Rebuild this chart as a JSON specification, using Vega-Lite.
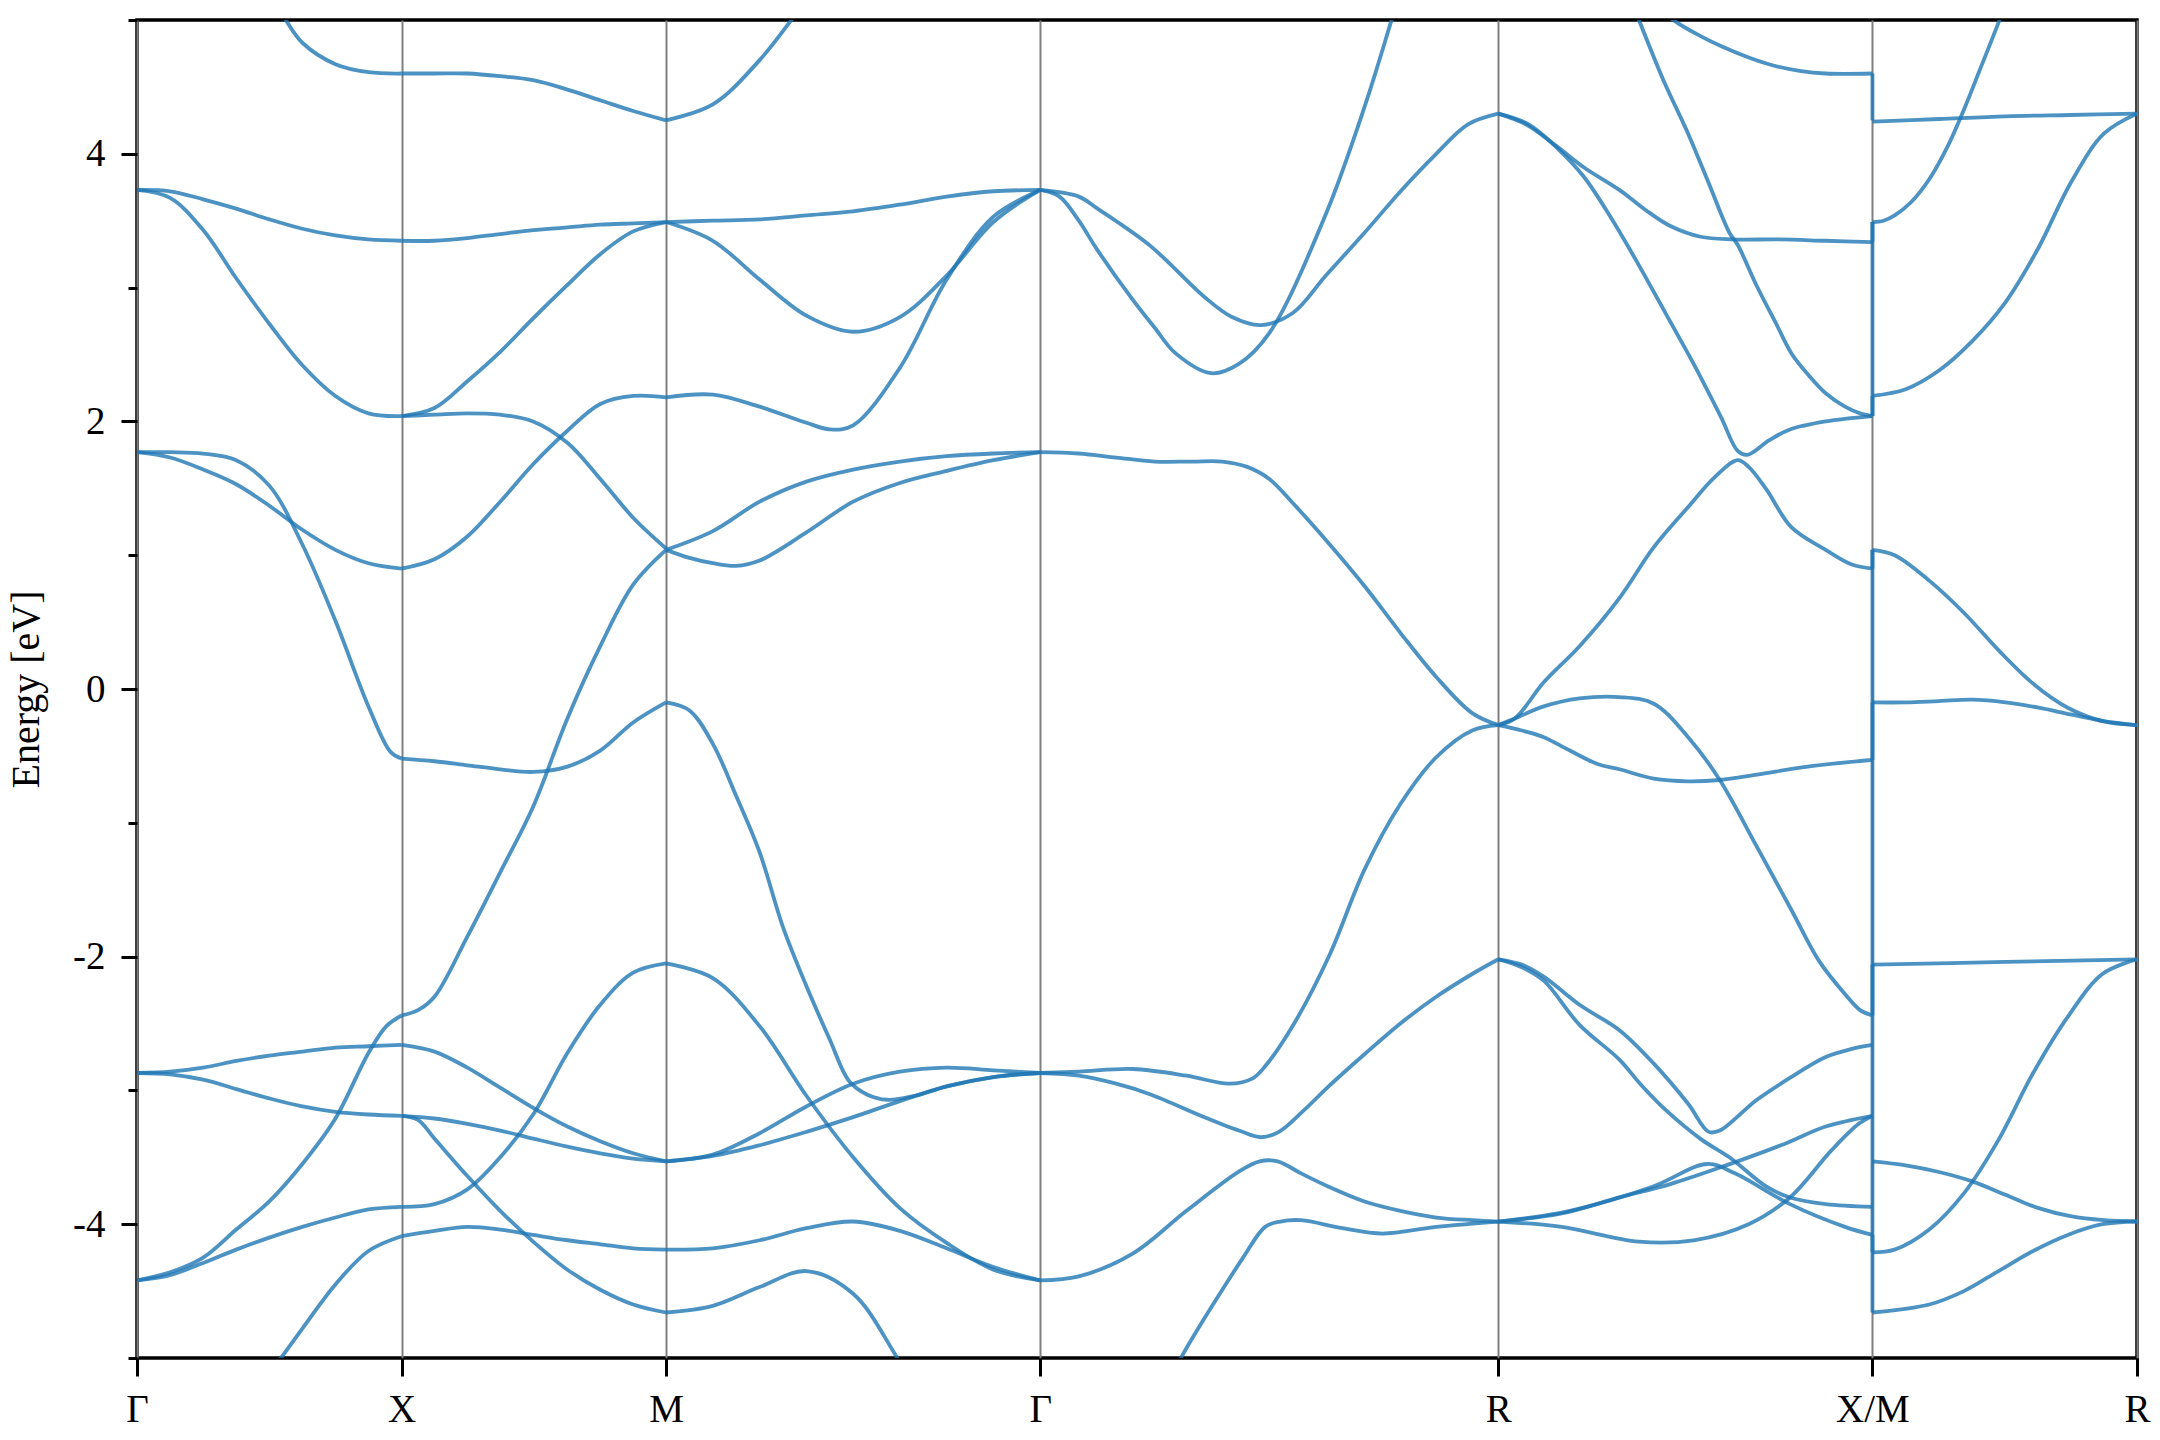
{
  "$schema": "https://vega.github.io/schema/vega-lite/v6.json",
  "width": 2000,
  "height": 1338,
  "autosize": {"type": "none"},
  "padding": {"left": 137, "top": 20, "right": 23, "bottom": 82},
  "background": "white",
  "config": {"font": "Liberation Serif", "view": {"stroke": "black", "strokeWidth": 3.5}},
  "datasets": {
    "bands": [
      {"c":"GX_A","k":0.1875,"e":5.65},{"c":"GX_A","k":0.25,"e":5.22},{"c":"GX_A","k":0.28125,"e":5.0},{"c":"GX_A","k":0.3125,"e":4.83},{"c":"GX_A","k":0.375,"e":4.67},{"c":"GX_A","k":0.4375,"e":4.61},{"c":"GX_A","k":0.5,"e":4.60},
      {"c":"GX_B","k":0,"e":3.73},{"c":"GX_B","k":0.0625,"e":3.72},{"c":"GX_B","k":0.125,"e":3.66},{"c":"GX_B","k":0.1875,"e":3.59},{"c":"GX_B","k":0.25,"e":3.51},{"c":"GX_B","k":0.3125,"e":3.44},{"c":"GX_B","k":0.375,"e":3.39},{"c":"GX_B","k":0.4375,"e":3.36},{"c":"GX_B","k":0.5,"e":3.35},
      {"c":"GX_C","k":0,"e":3.73},{"c":"GX_C","k":0.0625,"e":3.67},{"c":"GX_C","k":0.125,"e":3.43},{"c":"GX_C","k":0.1875,"e":3.07},{"c":"GX_C","k":0.25,"e":2.73},{"c":"GX_C","k":0.3125,"e":2.42},{"c":"GX_C","k":0.375,"e":2.19},{"c":"GX_C","k":0.4375,"e":2.06},{"c":"GX_C","k":0.5,"e":2.04},
      {"c":"GX_D","k":0,"e":1.77},{"c":"GX_D","k":0.0625,"e":1.77},{"c":"GX_D","k":0.125,"e":1.76},{"c":"GX_D","k":0.1875,"e":1.71},{"c":"GX_D","k":0.25,"e":1.52},{"c":"GX_D","k":0.3125,"e":1.08},{"c":"GX_D","k":0.375,"e":0.51},{"c":"GX_D","k":0.4375,"e":-0.13},{"c":"GX_D","k":0.4792,"e":-0.47},{"c":"GX_D","k":0.5,"e":-0.52},
      {"c":"GX_E","k":0,"e":1.77},{"c":"GX_E","k":0.0625,"e":1.73},{"c":"GX_E","k":0.125,"e":1.64},{"c":"GX_E","k":0.1875,"e":1.53},{"c":"GX_E","k":0.25,"e":1.37},{"c":"GX_E","k":0.3125,"e":1.19},{"c":"GX_E","k":0.375,"e":1.04},{"c":"GX_E","k":0.4375,"e":0.94},{"c":"GX_E","k":0.5,"e":0.90},
      {"c":"GX_F","k":0,"e":-2.87},{"c":"GX_F","k":0.0625,"e":-2.86},{"c":"GX_F","k":0.125,"e":-2.83},{"c":"GX_F","k":0.1875,"e":-2.78},{"c":"GX_F","k":0.25,"e":-2.74},{"c":"GX_F","k":0.3125,"e":-2.71},{"c":"GX_F","k":0.375,"e":-2.68},{"c":"GX_F","k":0.4375,"e":-2.67},{"c":"GX_F","k":0.5,"e":-2.66},
      {"c":"GX_G","k":0,"e":-2.87},{"c":"GX_G","k":0.0625,"e":-2.88},{"c":"GX_G","k":0.125,"e":-2.92},{"c":"GX_G","k":0.1875,"e":-2.99},{"c":"GX_G","k":0.25,"e":-3.06},{"c":"GX_G","k":0.3125,"e":-3.12},{"c":"GX_G","k":0.375,"e":-3.16},{"c":"GX_G","k":0.4375,"e":-3.18},{"c":"GX_G","k":0.5,"e":-3.19},
      {"c":"GX_H","k":0,"e":-4.42},{"c":"GX_H","k":0.0625,"e":-4.36},{"c":"GX_H","k":0.125,"e":-4.25},{"c":"GX_H","k":0.1875,"e":-4.04},{"c":"GX_H","k":0.25,"e":-3.83},{"c":"GX_H","k":0.3125,"e":-3.55},{"c":"GX_H","k":0.375,"e":-3.21},{"c":"GX_H","k":0.4375,"e":-2.72},{"c":"GX_H","k":0.4714,"e":-2.52},{"c":"GX_H","k":0.5,"e":-2.44},
      {"c":"GX_I","k":0,"e":-4.42},{"c":"GX_I","k":0.0625,"e":-4.38},{"c":"GX_I","k":0.125,"e":-4.29},{"c":"GX_I","k":0.1875,"e":-4.19},{"c":"GX_I","k":0.25,"e":-4.10},{"c":"GX_I","k":0.3125,"e":-4.02},{"c":"GX_I","k":0.375,"e":-3.95},{"c":"GX_I","k":0.4375,"e":-3.89},{"c":"GX_I","k":0.5,"e":-3.87},
      {"c":"GX_J","k":0.1875,"e":-5.45},{"c":"GX_J","k":0.25,"e":-5.12},{"c":"GX_J","k":0.3125,"e":-4.78},{"c":"GX_J","k":0.375,"e":-4.45},{"c":"GX_J","k":0.4375,"e":-4.20},{"c":"GX_J","k":0.5,"e":-4.09},

      {"c":"XM_A","k":0.5,"e":4.60},{"c":"XM_A","k":0.5622,"e":4.60},{"c":"XM_A","k":0.6244,"e":4.60},{"c":"XM_A","k":0.6865,"e":4.58},{"c":"XM_A","k":0.7487,"e":4.55},{"c":"XM_A","k":0.8135,"e":4.48},{"c":"XM_A","k":0.8756,"e":4.40},{"c":"XM_A","k":0.9378,"e":4.32},{"c":"XM_A","k":1.0,"e":4.25},
      {"c":"XM_B","k":0.5,"e":3.35},{"c":"XM_B","k":0.5622,"e":3.35},{"c":"XM_B","k":0.6244,"e":3.37},{"c":"XM_B","k":0.6865,"e":3.40},{"c":"XM_B","k":0.7487,"e":3.43},{"c":"XM_B","k":0.8135,"e":3.45},{"c":"XM_B","k":0.8756,"e":3.47},{"c":"XM_B","k":0.9378,"e":3.48},{"c":"XM_B","k":1.0,"e":3.49},
      {"c":"XM_C","k":0.5,"e":2.04},{"c":"XM_C","k":0.5622,"e":2.10},{"c":"XM_C","k":0.6244,"e":2.30},{"c":"XM_C","k":0.6865,"e":2.52},{"c":"XM_C","k":0.7487,"e":2.77},{"c":"XM_C","k":0.8135,"e":3.02},{"c":"XM_C","k":0.8756,"e":3.25},{"c":"XM_C","k":0.9378,"e":3.42},{"c":"XM_C","k":1.0,"e":3.49},
      {"c":"XM_D","k":0.5,"e":2.04},{"c":"XM_D","k":0.5622,"e":2.05},{"c":"XM_D","k":0.6244,"e":2.06},{"c":"XM_D","k":0.6865,"e":2.05},{"c":"XM_D","k":0.7487,"e":2.00},{"c":"XM_D","k":0.8135,"e":1.84},{"c":"XM_D","k":0.8756,"e":1.57},{"c":"XM_D","k":0.9378,"e":1.28},{"c":"XM_D","k":1.0,"e":1.05},
      {"c":"XM_E","k":0.5,"e":0.90},{"c":"XM_E","k":0.5622,"e":0.97},{"c":"XM_E","k":0.6244,"e":1.14},{"c":"XM_E","k":0.6865,"e":1.40},{"c":"XM_E","k":0.7487,"e":1.68},{"c":"XM_E","k":0.8135,"e":1.93},{"c":"XM_E","k":0.8756,"e":2.13},{"c":"XM_E","k":0.9378,"e":2.19},{"c":"XM_E","k":1.0,"e":2.18},
      {"c":"XM_Fp","k":0.5,"e":-0.52},{"c":"XM_Fp","k":0.5622,"e":-0.54},{"c":"XM_Fp","k":0.6244,"e":-0.57},{"c":"XM_Fp","k":0.6865,"e":-0.60},{"c":"XM_Fp","k":0.7487,"e":-0.62},{"c":"XM_Fp","k":0.8135,"e":-0.58},{"c":"XM_Fp","k":0.8756,"e":-0.46},{"c":"XM_Fp","k":0.9378,"e":-0.25},{"c":"XM_Fp","k":1.0,"e":-0.10},
      {"c":"XM_T","k":0.5,"e":-2.44},{"c":"XM_T","k":0.5311,"e":-2.40},{"c":"XM_T","k":0.5622,"e":-2.30},{"c":"XM_T","k":0.6244,"e":-1.85},{"c":"XM_T","k":0.6865,"e":-1.37},{"c":"XM_T","k":0.7487,"e":-0.88},{"c":"XM_T","k":0.8135,"e":-0.22},{"c":"XM_T","k":0.8756,"e":0.32},{"c":"XM_T","k":0.9378,"e":0.78},{"c":"XM_T","k":1.0,"e":1.04},
      {"c":"XM_F","k":0.5,"e":-2.66},{"c":"XM_F","k":0.5622,"e":-2.71},{"c":"XM_F","k":0.6244,"e":-2.83},{"c":"XM_F","k":0.6865,"e":-2.98},{"c":"XM_F","k":0.7487,"e":-3.13},{"c":"XM_F","k":0.8135,"e":-3.27},{"c":"XM_F","k":0.8756,"e":-3.38},{"c":"XM_F","k":0.9378,"e":-3.47},{"c":"XM_F","k":1.0,"e":-3.53},
      {"c":"XM_G1","k":0.5,"e":-3.19},{"c":"XM_G1","k":0.5622,"e":-3.21},{"c":"XM_G1","k":0.6244,"e":-3.25},{"c":"XM_G1","k":0.6865,"e":-3.30},{"c":"XM_G1","k":0.7487,"e":-3.36},{"c":"XM_G1","k":0.8135,"e":-3.42},{"c":"XM_G1","k":0.8756,"e":-3.47},{"c":"XM_G1","k":0.9378,"e":-3.51},{"c":"XM_G1","k":1.0,"e":-3.53},
      {"c":"XM_G2","k":0.5,"e":-3.19},{"c":"XM_G2","k":0.5311,"e":-3.22},{"c":"XM_G2","k":0.5622,"e":-3.36},{"c":"XM_G2","k":0.6244,"e":-3.64},{"c":"XM_G2","k":0.6865,"e":-3.90},{"c":"XM_G2","k":0.7487,"e":-4.13},{"c":"XM_G2","k":0.8135,"e":-4.34},{"c":"XM_G2","k":0.8756,"e":-4.49},{"c":"XM_G2","k":0.9378,"e":-4.60},{"c":"XM_G2","k":1.0,"e":-4.66},
      {"c":"XM_I","k":0.5,"e":-3.87},{"c":"XM_I","k":0.5622,"e":-3.85},{"c":"XM_I","k":0.6244,"e":-3.74},{"c":"XM_I","k":0.6865,"e":-3.50},{"c":"XM_I","k":0.7487,"e":-3.18},{"c":"XM_I","k":0.8135,"e":-2.72},{"c":"XM_I","k":0.8756,"e":-2.36},{"c":"XM_I","k":0.9378,"e":-2.12},{"c":"XM_I","k":1.0,"e":-2.05},
      {"c":"XM_J","k":0.5,"e":-4.09},{"c":"XM_J","k":0.5622,"e":-4.05},{"c":"XM_J","k":0.6244,"e":-4.02},{"c":"XM_J","k":0.6865,"e":-4.04},{"c":"XM_J","k":0.7487,"e":-4.08},{"c":"XM_J","k":0.8135,"e":-4.12},{"c":"XM_J","k":0.8756,"e":-4.15},{"c":"XM_J","k":0.9378,"e":-4.18},{"c":"XM_J","k":1.0,"e":-4.19},

      {"c":"MG_A","k":1.0,"e":4.25},{"c":"MG_A","k":1.0884,"e":4.37},{"c":"MG_A","k":1.1768,"e":4.70},{"c":"MG_A","k":1.2652,"e":5.15},{"c":"MG_A","k":1.3536,"e":5.6},
      {"c":"MG_B","k":1.0,"e":3.49},{"c":"MG_B","k":1.0884,"e":3.50},{"c":"MG_B","k":1.1768,"e":3.51},{"c":"MG_B","k":1.2652,"e":3.54},{"c":"MG_B","k":1.3536,"e":3.57},{"c":"MG_B","k":1.4419,"e":3.62},{"c":"MG_B","k":1.5303,"e":3.68},{"c":"MG_B","k":1.6187,"e":3.72},{"c":"MG_B","k":1.7071,"e":3.73},
      {"c":"MG_C","k":1.0,"e":3.49},{"c":"MG_C","k":1.0884,"e":3.35},{"c":"MG_C","k":1.1768,"e":3.06},{"c":"MG_C","k":1.2652,"e":2.79},{"c":"MG_C","k":1.3536,"e":2.67},{"c":"MG_C","k":1.4419,"e":2.78},{"c":"MG_C","k":1.5303,"e":3.09},{"c":"MG_C","k":1.6187,"e":3.49},{"c":"MG_C","k":1.7071,"e":3.73},
      {"c":"MG_E","k":1.0,"e":2.18},{"c":"MG_E","k":1.0884,"e":2.20},{"c":"MG_E","k":1.1768,"e":2.11},{"c":"MG_E","k":1.2652,"e":1.99},{"c":"MG_E","k":1.3094,"e":1.94},{"c":"MG_E","k":1.3536,"e":1.97},{"c":"MG_E","k":1.4419,"e":2.40},{"c":"MG_E","k":1.5303,"e":3.06},{"c":"MG_E","k":1.6187,"e":3.53},{"c":"MG_E","k":1.7071,"e":3.73},
      {"c":"MG_T1","k":1.0,"e":1.04},{"c":"MG_T1","k":1.0884,"e":1.18},{"c":"MG_T1","k":1.1768,"e":1.40},{"c":"MG_T1","k":1.2652,"e":1.55},{"c":"MG_T1","k":1.3536,"e":1.64},{"c":"MG_T1","k":1.4419,"e":1.70},{"c":"MG_T1","k":1.5303,"e":1.74},{"c":"MG_T1","k":1.6187,"e":1.76},{"c":"MG_T1","k":1.7071,"e":1.77},
      {"c":"MG_T2","k":1.0,"e":1.04},{"c":"MG_T2","k":1.0442,"e":0.98},{"c":"MG_T2","k":1.0884,"e":0.94},{"c":"MG_T2","k":1.1326,"e":0.92},{"c":"MG_T2","k":1.1768,"e":0.96},{"c":"MG_T2","k":1.2652,"e":1.17},{"c":"MG_T2","k":1.3536,"e":1.40},{"c":"MG_T2","k":1.4419,"e":1.54},{"c":"MG_T2","k":1.5303,"e":1.63},{"c":"MG_T2","k":1.6187,"e":1.71},{"c":"MG_T2","k":1.7071,"e":1.77},
      {"c":"MG_Fp","k":1.0,"e":-0.10},{"c":"MG_Fp","k":1.0442,"e":-0.16},{"c":"MG_Fp","k":1.0884,"e":-0.41},{"c":"MG_Fp","k":1.1326,"e":-0.80},{"c":"MG_Fp","k":1.1768,"e":-1.22},{"c":"MG_Fp","k":1.2210,"e":-1.78},{"c":"MG_Fp","k":1.2652,"e":-2.22},{"c":"MG_Fp","k":1.3094,"e":-2.62},{"c":"MG_Fp","k":1.3458,"e":-2.93},{"c":"MG_Fp","k":1.3795,"e":-3.03},{"c":"MG_Fp","k":1.4185,"e":-3.07},{"c":"MG_Fp","k":1.4705,"e":-3.04},{"c":"MG_Fp","k":1.5303,"e":-2.97},{"c":"MG_Fp","k":1.6187,"e":-2.90},{"c":"MG_Fp","k":1.7071,"e":-2.87},
      {"c":"MG_P","k":1.0,"e":-2.05},{"c":"MG_P","k":1.0884,"e":-2.16},{"c":"MG_P","k":1.1768,"e":-2.52},{"c":"MG_P","k":1.2652,"e":-3.04},{"c":"MG_P","k":1.3536,"e":-3.50},{"c":"MG_P","k":1.4419,"e":-3.88},{"c":"MG_P","k":1.5303,"e":-4.14},{"c":"MG_P","k":1.6187,"e":-4.34},{"c":"MG_P","k":1.7071,"e":-4.42},
      {"c":"MG_Q1","k":1.0,"e":-3.53},{"c":"MG_Q1","k":1.0884,"e":-3.49},{"c":"MG_Q1","k":1.1768,"e":-3.41},{"c":"MG_Q1","k":1.2652,"e":-3.31},{"c":"MG_Q1","k":1.3536,"e":-3.20},{"c":"MG_Q1","k":1.4419,"e":-3.08},{"c":"MG_Q1","k":1.5303,"e":-2.97},{"c":"MG_Q1","k":1.6187,"e":-2.90},{"c":"MG_Q1","k":1.7071,"e":-2.87},
      {"c":"MG_Q2","k":1.0,"e":-3.53},{"c":"MG_Q2","k":1.0884,"e":-3.48},{"c":"MG_Q2","k":1.1768,"e":-3.32},{"c":"MG_Q2","k":1.2652,"e":-3.12},{"c":"MG_Q2","k":1.3536,"e":-2.95},{"c":"MG_Q2","k":1.4419,"e":-2.86},{"c":"MG_Q2","k":1.5303,"e":-2.83},{"c":"MG_Q2","k":1.6187,"e":-2.85},{"c":"MG_Q2","k":1.7071,"e":-2.87},
      {"c":"MG_J","k":1.0,"e":-4.19},{"c":"MG_J","k":1.0884,"e":-4.18},{"c":"MG_J","k":1.1768,"e":-4.12},{"c":"MG_J","k":1.2652,"e":-4.03},{"c":"MG_J","k":1.3536,"e":-3.98},{"c":"MG_J","k":1.4419,"e":-4.05},{"c":"MG_J","k":1.5303,"e":-4.18},{"c":"MG_J","k":1.6187,"e":-4.32},{"c":"MG_J","k":1.7071,"e":-4.42},
      {"c":"MG_S","k":1.0,"e":-4.66},{"c":"MG_S","k":1.0884,"e":-4.61},{"c":"MG_S","k":1.1768,"e":-4.47},{"c":"MG_S","k":1.2652,"e":-4.35},{"c":"MG_S","k":1.3536,"e":-4.52},{"c":"MG_S","k":1.4419,"e":-5.03},{"c":"MG_S","k":1.5303,"e":-5.6},

      {"c":"GR_U","k":1.7071,"e":3.73},{"c":"GR_U","k":1.7436,"e":3.68},{"c":"GR_U","k":1.7801,"e":3.50},{"c":"GR_U","k":1.8154,"e":3.28},{"c":"GR_U","k":1.8819,"e":2.91},{"c":"GR_U","k":1.9236,"e":2.70},{"c":"GR_U","k":1.9627,"e":2.51},{"c":"GR_U","k":2.0306,"e":2.36},{"c":"GR_U","k":2.0827,"e":2.43},{"c":"GR_U","k":2.1401,"e":2.66},{"c":"GR_U","k":2.2471,"e":3.55},{"c":"GR_U","k":2.3201,"e":4.35},{"c":"GR_U","k":2.3697,"e":4.98},{"c":"GR_U","k":2.4088,"e":5.5},
      {"c":"GR_V","k":1.7071,"e":3.73},{"c":"GR_V","k":1.7801,"e":3.68},{"c":"GR_V","k":1.8154,"e":3.59},{"c":"GR_V","k":1.9158,"e":3.31},{"c":"GR_V","k":2.0175,"e":2.93},{"c":"GR_V","k":2.0697,"e":2.78},{"c":"GR_V","k":2.1245,"e":2.72},{"c":"GR_V","k":2.1845,"e":2.81},{"c":"GR_V","k":2.2471,"e":3.09},{"c":"GR_V","k":2.3201,"e":3.41},{"c":"GR_V","k":2.3905,"e":3.73},{"c":"GR_V","k":2.4557,"e":4.00},{"c":"GR_V","k":2.5157,"e":4.22},{"c":"GR_V","k":2.5731,"e":4.30},
      {"c":"GR_W","k":1.7071,"e":1.77},{"c":"GR_W","k":1.7801,"e":1.76},{"c":"GR_W","k":1.8506,"e":1.73},{"c":"GR_W","k":1.9236,"e":1.70},{"c":"GR_W","k":1.9940,"e":1.70},{"c":"GR_W","k":2.0514,"e":1.70},{"c":"GR_W","k":2.0984,"e":1.66},{"c":"GR_W","k":2.1401,"e":1.57},{"c":"GR_W","k":2.1845,"e":1.39},{"c":"GR_W","k":2.2523,"e":1.09},{"c":"GR_W","k":2.3201,"e":0.77},{"c":"GR_W","k":2.3879,"e":0.42},{"c":"GR_W","k":2.4557,"e":0.09},{"c":"GR_W","k":2.5236,"e":-0.18},{"c":"GR_W","k":2.5731,"e":-0.27},
      {"c":"GR_X1","k":1.7071,"e":-2.87},{"c":"GR_X1","k":1.7801,"e":-2.86},{"c":"GR_X1","k":1.8819,"e":-2.84},{"c":"GR_X1","k":1.9836,"e":-2.89},{"c":"GR_X1","k":2.0645,"e":-2.95},{"c":"GR_X1","k":2.1088,"e":-2.91},{"c":"GR_X1","k":2.1323,"e":-2.82},{"c":"GR_X1","k":2.1871,"e":-2.50},{"c":"GR_X1","k":2.2549,"e":-1.98},{"c":"GR_X1","k":2.3201,"e":-1.35},{"c":"GR_X1","k":2.3879,"e":-0.86},{"c":"GR_X1","k":2.4557,"e":-0.51},{"c":"GR_X1","k":2.5236,"e":-0.31},{"c":"GR_X1","k":2.5731,"e":-0.27},
      {"c":"GR_X2","k":1.7071,"e":-2.87},{"c":"GR_X2","k":1.7801,"e":-2.89},{"c":"GR_X2","k":1.8506,"e":-2.95},{"c":"GR_X2","k":1.9158,"e":-3.03},{"c":"GR_X2","k":2.0175,"e":-3.20},{"c":"GR_X2","k":2.0827,"e":-3.30},{"c":"GR_X2","k":2.1245,"e":-3.35},{"c":"GR_X2","k":2.1584,"e":-3.31},{"c":"GR_X2","k":2.2053,"e":-3.15},{"c":"GR_X2","k":2.2523,"e":-2.97},{"c":"GR_X2","k":2.3201,"e":-2.73},{"c":"GR_X2","k":2.3879,"e":-2.50},{"c":"GR_X2","k":2.4557,"e":-2.30},{"c":"GR_X2","k":2.5236,"e":-2.13},{"c":"GR_X2","k":2.5731,"e":-2.02},
      {"c":"GR_X3","k":1.7071,"e":-4.42},{"c":"GR_X3","k":1.7801,"e":-4.39},{"c":"GR_X3","k":1.8819,"e":-4.22},{"c":"GR_X3","k":1.9836,"e":-3.90},{"c":"GR_X3","k":2.0853,"e":-3.60},{"c":"GR_X3","k":2.1219,"e":-3.53},{"c":"GR_X3","k":2.1558,"e":-3.53},{"c":"GR_X3","k":2.2001,"e":-3.62},{"c":"GR_X3","k":2.2523,"e":-3.72},{"c":"GR_X3","k":2.3201,"e":-3.83},{"c":"GR_X3","k":2.3879,"e":-3.90},{"c":"GR_X3","k":2.4557,"e":-3.95},{"c":"GR_X3","k":2.5236,"e":-3.97},{"c":"GR_X3","k":2.5731,"e":-3.98},
      {"c":"GR_X4","k":1.9001,"e":-5.5},{"c":"GR_X4","k":1.9393,"e":-5.25},{"c":"GR_X4","k":1.9758,"e":-4.98},{"c":"GR_X4","k":2.0149,"e":-4.72},{"c":"GR_X4","k":2.0514,"e":-4.49},{"c":"GR_X4","k":2.0906,"e":-4.25},{"c":"GR_X4","k":2.1323,"e":-4.02},{"c":"GR_X4","k":2.1610,"e":-3.98},{"c":"GR_X4","k":2.2001,"e":-3.97},{"c":"GR_X4","k":2.2784,"e":-4.03},{"c":"GR_X4","k":2.3540,"e":-4.07},{"c":"GR_X4","k":2.4557,"e":-4.02},{"c":"GR_X4","k":2.5731,"e":-3.98},

      {"c":"RX_Y1","k":2.5731,"e":4.30},{"c":"RX_Y1","k":2.6251,"e":4.22},{"c":"RX_Y1","k":2.6823,"e":4.06},{"c":"RX_Y1","k":2.7343,"e":3.90},{"c":"RX_Y1","k":2.8019,"e":3.73},{"c":"RX_Y1","k":2.8513,"e":3.58},{"c":"RX_Y1","k":2.8981,"e":3.46},{"c":"RX_Y1","k":2.9552,"e":3.38},{"c":"RX_Y1","k":3.0150,"e":3.36},{"c":"RX_Y1","k":3.1034,"e":3.36},{"c":"RX_Y1","k":3.1918,"e":3.35},{"c":"RX_Y1","k":3.2802,"e":3.34},
      {"c":"RX_Y2","k":2.5731,"e":4.30},{"c":"RX_Y2","k":2.6303,"e":4.22},{"c":"RX_Y2","k":2.6823,"e":4.05},{"c":"RX_Y2","k":2.7343,"e":3.83},{"c":"RX_Y2","k":2.7863,"e":3.52},{"c":"RX_Y2","k":2.8383,"e":3.17},{"c":"RX_Y2","k":2.8903,"e":2.80},{"c":"RX_Y2","k":2.9422,"e":2.43},{"c":"RX_Y2","k":2.9942,"e":2.03},{"c":"RX_Y2","k":3.0254,"e":1.78},{"c":"RX_Y2","k":3.0436,"e":1.75},{"c":"RX_Y2","k":3.0852,"e":1.86},{"c":"RX_Y2","k":3.1242,"e":1.94},{"c":"RX_Y2","k":3.1918,"e":2.00},{"c":"RX_Y2","k":3.2802,"e":2.04},
      {"c":"RX_Y3","k":2.7863,"e":5.5},{"c":"RX_Y3","k":2.8123,"e":5.27},{"c":"RX_Y3","k":2.8409,"e":4.98},{"c":"RX_Y3","k":2.8851,"e":4.55},{"c":"RX_Y3","k":2.9318,"e":4.15},{"c":"RX_Y3","k":2.9708,"e":3.78},{"c":"RX_Y3","k":3.0098,"e":3.41},{"c":"RX_Y3","k":3.0254,"e":3.32},{"c":"RX_Y3","k":3.0618,"e":3.01},{"c":"RX_Y3","k":3.0982,"e":2.73},{"c":"RX_Y3","k":3.1268,"e":2.51},{"c":"RX_Y3","k":3.1606,"e":2.34},{"c":"RX_Y3","k":3.1918,"e":2.21},{"c":"RX_Y3","k":3.2282,"e":2.11},{"c":"RX_Y3","k":3.2568,"e":2.06},{"c":"RX_Y3","k":3.2802,"e":2.04},
      {"c":"RX_Y4","k":2.7343,"e":5.7},{"c":"RX_Y4","k":2.8123,"e":5.35},{"c":"RX_Y4","k":2.8643,"e":5.13},{"c":"RX_Y4","k":2.9110,"e":4.98},{"c":"RX_Y4","k":2.9552,"e":4.88},{"c":"RX_Y4","k":2.9968,"e":4.80},{"c":"RX_Y4","k":3.0462,"e":4.72},{"c":"RX_Y4","k":3.0930,"e":4.66},{"c":"RX_Y4","k":3.1424,"e":4.62},{"c":"RX_Y4","k":3.1918,"e":4.60},{"c":"RX_Y4","k":3.2802,"e":4.60},
      {"c":"RX_Z1","k":2.5731,"e":-0.27},{"c":"RX_Z1","k":2.6043,"e":-0.22},{"c":"RX_Z1","k":2.6589,"e":0.05},{"c":"RX_Z1","k":2.7265,"e":0.32},{"c":"RX_Z1","k":2.8019,"e":0.68},{"c":"RX_Z1","k":2.8669,"e":1.06},{"c":"RX_Z1","k":2.9318,"e":1.36},{"c":"RX_Z1","k":2.9812,"e":1.58},{"c":"RX_Z1","k":3.0254,"e":1.71},{"c":"RX_Z1","k":3.0462,"e":1.66},{"c":"RX_Z1","k":3.0800,"e":1.49},{"c":"RX_Z1","k":3.1268,"e":1.21},{"c":"RX_Z1","k":3.1918,"e":1.04},{"c":"RX_Z1","k":3.2412,"e":0.93},{"c":"RX_Z1","k":3.2802,"e":0.90},
      {"c":"RX_Z2","k":2.5731,"e":-0.27},{"c":"RX_Z2","k":2.6043,"e":-0.22},{"c":"RX_Z2","k":2.6589,"e":-0.13},{"c":"RX_Z2","k":2.7265,"e":-0.07},{"c":"RX_Z2","k":2.8019,"e":-0.06},{"c":"RX_Z2","k":2.8669,"e":-0.11},{"c":"RX_Z2","k":2.9318,"e":-0.36},{"c":"RX_Z2","k":2.9916,"e":-0.68},{"c":"RX_Z2","k":3.0618,"e":-1.18},{"c":"RX_Z2","k":3.1268,"e":-1.65},{"c":"RX_Z2","k":3.1788,"e":-2.03},{"c":"RX_Z2","k":3.2282,"e":-2.28},{"c":"RX_Z2","k":3.2568,"e":-2.40},{"c":"RX_Z2","k":3.2802,"e":-2.44},
      {"c":"RX_Z3","k":2.5731,"e":-0.27},{"c":"RX_Z3","k":2.6173,"e":-0.31},{"c":"RX_Z3","k":2.6589,"e":-0.36},{"c":"RX_Z3","k":2.7083,"e":-0.46},{"c":"RX_Z3","k":2.7603,"e":-0.56},{"c":"RX_Z3","k":2.8019,"e":-0.60},{"c":"RX_Z3","k":2.8669,"e":-0.67},{"c":"RX_Z3","k":2.9318,"e":-0.69},{"c":"RX_Z3","k":2.9916,"e":-0.68},{"c":"RX_Z3","k":3.0618,"e":-0.64},{"c":"RX_Z3","k":3.1580,"e":-0.58},{"c":"RX_Z3","k":3.2802,"e":-0.53},
      {"c":"RX_a","k":2.5731,"e":-2.02},{"c":"RX_a","k":2.6173,"e":-2.06},{"c":"RX_a","k":2.6589,"e":-2.15},{"c":"RX_a","k":2.7265,"e":-2.36},{"c":"RX_a","k":2.8019,"e":-2.55},{"c":"RX_a","k":2.8669,"e":-2.80},{"c":"RX_a","k":2.9318,"e":-3.10},{"c":"RX_a","k":2.9708,"e":-3.31},{"c":"RX_a","k":2.9916,"e":-3.30},{"c":"RX_a","k":3.0618,"e":-3.07},{"c":"RX_a","k":3.1268,"e":-2.90},{"c":"RX_a","k":3.1918,"e":-2.75},{"c":"RX_a","k":3.2412,"e":-2.69},{"c":"RX_a","k":3.2802,"e":-2.66},
      {"c":"RX_b","k":2.5731,"e":-2.02},{"c":"RX_b","k":2.6173,"e":-2.08},{"c":"RX_b","k":2.6589,"e":-2.18},{"c":"RX_b","k":2.7265,"e":-2.51},{"c":"RX_b","k":2.8019,"e":-2.77},{"c":"RX_b","k":2.8409,"e":-2.95},{"c":"RX_b","k":2.8903,"e":-3.15},{"c":"RX_b","k":2.9578,"e":-3.37},{"c":"RX_b","k":3.0098,"e":-3.50},{"c":"RX_b","k":3.0800,"e":-3.72},{"c":"RX_b","k":3.1242,"e":-3.80},{"c":"RX_b","k":3.1918,"e":-3.85},{"c":"RX_b","k":3.2802,"e":-3.87},
      {"c":"RX_c","k":2.5731,"e":-3.98},{"c":"RX_c","k":2.6927,"e":-3.92},{"c":"RX_c","k":2.8019,"e":-3.80},{"c":"RX_c","k":2.8981,"e":-3.70},{"c":"RX_c","k":2.9968,"e":-3.57},{"c":"RX_c","k":3.1138,"e":-3.40},{"c":"RX_c","k":3.1918,"e":-3.27},{"c":"RX_c","k":3.2802,"e":-3.19},
      {"c":"RX_d","k":2.5731,"e":-3.98},{"c":"RX_d","k":2.7083,"e":-3.90},{"c":"RX_d","k":2.8643,"e":-3.72},{"c":"RX_d","k":2.9682,"e":-3.55},{"c":"RX_d","k":3.0202,"e":-3.62},{"c":"RX_d","k":3.1242,"e":-3.85},{"c":"RX_d","k":3.2282,"e":-4.02},{"c":"RX_d","k":3.2802,"e":-4.08},
      {"c":"RX_e","k":2.5731,"e":-3.98},{"c":"RX_e","k":2.6927,"e":-4.02},{"c":"RX_e","k":2.8383,"e":-4.13},{"c":"RX_e","k":2.9422,"e":-4.12},{"c":"RX_e","k":3.0462,"e":-4.00},{"c":"RX_e","k":3.1242,"e":-3.80},{"c":"RX_e","k":3.2022,"e":-3.45},{"c":"RX_e","k":3.2542,"e":-3.25},{"c":"RX_e","k":3.2802,"e":-3.19},

      {"c":"MR_1","k":3.2802,"e":4.24},{"c":"MR_1","k":3.4059,"e":4.26},{"c":"MR_1","k":3.5315,"e":4.28},{"c":"MR_1","k":3.6545,"e":4.29},{"c":"MR_1","k":3.7802,"e":4.30},
      {"c":"MR_2","k":3.2802,"e":3.49},{"c":"MR_2","k":3.3011,"e":3.50},{"c":"MR_2","k":3.3221,"e":3.54},{"c":"MR_2","k":3.3535,"e":3.64},{"c":"MR_2","k":3.3875,"e":3.81},{"c":"MR_2","k":3.4216,"e":4.05},{"c":"MR_2","k":3.4530,"e":4.33},{"c":"MR_2","k":3.4844,"e":4.64},{"c":"MR_2","k":3.5184,"e":4.98},{"c":"MR_2","k":3.5525,"e":5.35},
      {"c":"MR_3","k":3.2802,"e":2.19},{"c":"MR_3","k":3.3430,"e":2.24},{"c":"MR_3","k":3.4059,"e":2.38},{"c":"MR_3","k":3.4687,"e":2.60},{"c":"MR_3","k":3.5315,"e":2.89},{"c":"MR_3","k":3.5943,"e":3.30},{"c":"MR_3","k":3.6545,"e":3.78},{"c":"MR_3","k":3.7174,"e":4.15},{"c":"MR_3","k":3.7802,"e":4.30},
      {"c":"MR_4","k":3.2802,"e":1.04},{"c":"MR_4","k":3.3221,"e":1.00},{"c":"MR_4","k":3.3875,"e":0.81},{"c":"MR_4","k":3.4530,"e":0.57},{"c":"MR_4","k":3.5184,"e":0.29},{"c":"MR_4","k":3.5839,"e":0.04},{"c":"MR_4","k":3.6493,"e":-0.14},{"c":"MR_4","k":3.7148,"e":-0.24},{"c":"MR_4","k":3.7802,"e":-0.27},
      {"c":"MR_5","k":3.2802,"e":-0.10},{"c":"MR_5","k":3.3430,"e":-0.10},{"c":"MR_5","k":3.4059,"e":-0.09},{"c":"MR_5","k":3.4687,"e":-0.08},{"c":"MR_5","k":3.5315,"e":-0.10},{"c":"MR_5","k":3.5943,"e":-0.14},{"c":"MR_5","k":3.6545,"e":-0.19},{"c":"MR_5","k":3.7174,"e":-0.24},{"c":"MR_5","k":3.7802,"e":-0.27},
      {"c":"MR_6","k":3.2802,"e":-2.06},{"c":"MR_6","k":3.5315,"e":-2.04},{"c":"MR_6","k":3.7802,"e":-2.02},
      {"c":"MR_7","k":3.2802,"e":-3.53},{"c":"MR_7","k":3.3430,"e":-3.56},{"c":"MR_7","k":3.4059,"e":-3.61},{"c":"MR_7","k":3.4687,"e":-3.68},{"c":"MR_7","k":3.5315,"e":-3.78},{"c":"MR_7","k":3.5943,"e":-3.88},{"c":"MR_7","k":3.6545,"e":-3.94},{"c":"MR_7","k":3.7174,"e":-3.97},{"c":"MR_7","k":3.7802,"e":-3.98},
      {"c":"MR_8","k":3.2802,"e":-4.21},{"c":"MR_8","k":3.3221,"e":-4.19},{"c":"MR_8","k":3.3875,"e":-4.04},{"c":"MR_8","k":3.4530,"e":-3.77},{"c":"MR_8","k":3.5184,"e":-3.37},{"c":"MR_8","k":3.5839,"e":-2.87},{"c":"MR_8","k":3.6493,"e":-2.45},{"c":"MR_8","k":3.7148,"e":-2.13},{"c":"MR_8","k":3.7802,"e":-2.02},
      {"c":"MR_9","k":3.2802,"e":-4.66},{"c":"MR_9","k":3.3875,"e":-4.60},{"c":"MR_9","k":3.4530,"e":-4.50},{"c":"MR_9","k":3.5184,"e":-4.35},{"c":"MR_9","k":3.5839,"e":-4.20},{"c":"MR_9","k":3.6493,"e":-4.08},{"c":"MR_9","k":3.7148,"e":-4.00},{"c":"MR_9","k":3.7802,"e":-3.98}
    ],
    "jumps": [
      {"k":3.2802,"e1":4.25,"e2":4.60},
      {"k":3.2802,"e1":3.34,"e2":3.49},
      {"k":3.2802,"e1":2.04,"e2":3.49},
      {"k":3.2802,"e1":2.04,"e2":2.19},
      {"k":3.2802,"e1":0.90,"e2":1.04},
      {"k":3.2802,"e1":-0.53,"e2":1.04},
      {"k":3.2802,"e1":-2.44,"e2":-0.10},
      {"k":3.2802,"e1":-2.66,"e2":-2.06},
      {"k":3.2802,"e1":-3.19,"e2":-2.66},
      {"k":3.2802,"e1":-3.53,"e2":-3.19},
      {"k":3.2802,"e1":-3.87,"e2":-3.53},
      {"k":3.2802,"e1":-4.21,"e2":-3.87},
      {"k":3.2802,"e1":-4.66,"e2":-4.08}
    ]
  },
  "layer": [
    {
      "data": {"name": "bands"},
      "mark": {"type": "line", "interpolate": "catmull-rom", "color": "#1f77b4", "opacity": 0.8, "strokeWidth": 3.8, "clip": true},
      "encoding": {
        "x": {
          "field": "k", "type": "quantitative",
          "scale": {"domain": [0, 3.7802], "nice": false, "zero": false},
          "axis": {
            "title": null,
            "values": [0, 0.5, 1, 1.7071, 2.5731, 3.2802, 3.7802],
            "labelExpr": "datum.value < 0.25 ? 'Γ' : datum.value < 0.75 ? 'X' : datum.value < 1.3 ? 'M' : datum.value < 2 ? 'Γ' : datum.value < 3 ? 'R' : datum.value < 3.5 ? 'X/M' : 'R'",
            "domain": false,
            "grid": true, "gridColor": "#808080", "gridWidth": 2, "gridOpacity": 1,
            "ticks": true, "tickColor": "black", "tickWidth": 3, "tickSize": 18,
            "labelFont": "Liberation Serif", "labelFontSize": 39, "labelColor": "black", "labelPadding": 14,
            "labelFlush": false, "labelOverlap": false
          }
        },
        "y": {
          "field": "e", "type": "quantitative",
          "scale": {"domain": [-5, 5], "nice": false, "zero": false},
          "axis": {
            "title": "Energy [eV]",
            "titleFont": "Liberation Serif", "titleFontSize": 40, "titleFontWeight": "normal", "titleColor": "black", "titlePadding": 26,
            "values": [-5, -4, -3, -2, -1, 0, 1, 2, 3, 4, 5],
            "labelExpr": "datum.value % 2 == 0 ? '' + datum.value : ''",
            "domain": false, "grid": false,
            "tickColor": "black", "tickWidth": 3,
            "tickSize": {"condition": {"test": "datum.value % 2 == 0", "value": 16}, "value": 9},
            "labelFont": "Liberation Serif", "labelFontSize": 39, "labelColor": "black", "labelPadding": 16,
            "labelFlush": false, "labelOverlap": false
          }
        },
        "detail": {"field": "c", "type": "nominal"}
      }
    },
    {
      "data": {"name": "jumps"},
      "mark": {"type": "rule", "color": "#1f77b4", "opacity": 0.8, "strokeWidth": 3.8},
      "encoding": {
        "x": {"field": "k", "type": "quantitative"},
        "y": {"field": "e1", "type": "quantitative"},
        "y2": {"field": "e2"}
      }
    }
  ]
}
